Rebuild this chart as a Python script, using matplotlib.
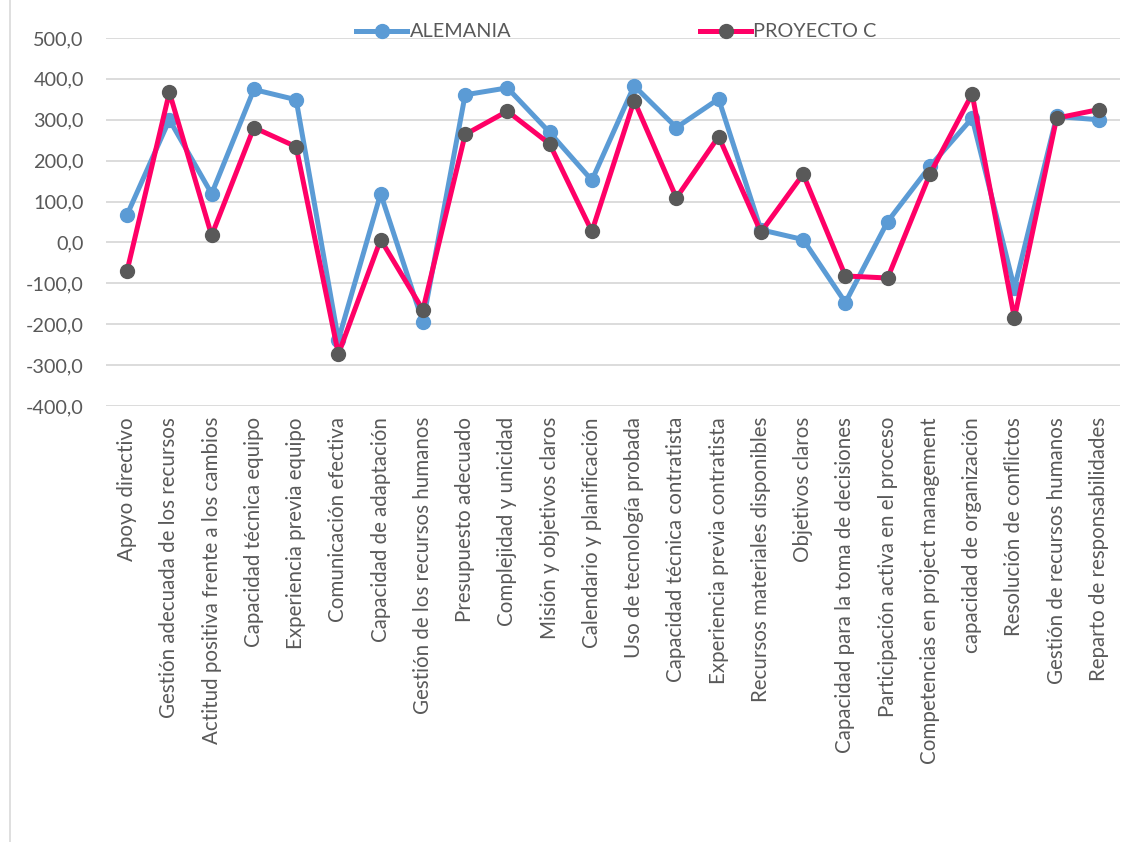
import matplotlib.pyplot as plt
from matplotlib.ticker import FuncFormatter
from matplotlib.lines import Line2D

plt.rcParams['font.family'] = ['Lato', 'DejaVu Sans']

categorias = ['Apoyo directivo', 'Gestión adecuada de los recursos',
              'Actitud positiva frente a los cambios', 'Capacidad técnica equipo',
              'Experiencia previa equipo', 'Comunicación efectiva',
              'Capacidad de adaptación', 'Gestión de los recursos humanos',
              'Presupuesto adecuado', 'Complejidad y unicidad',
              'Misión y objetivos claros', 'Calendario y planificación',
              'Uso de tecnología probada', 'Capacidad técnica contratista',
              'Experiencia previa contratista', 'Recursos materiales disponibles',
              'Objetivos claros', 'Capacidad para la toma de decisiones',
              'Participación activa en el proceso', 'Competencias en project management',
              'capacidad de organización', 'Resolución de conflictos',
              'Gestión de recursos humanos', 'Reparto de responsabilidades']

alemania = [68, 300, 119, 374, 349, -238, 119, -195, 361, 378, 269, 152,
            383, 281, 351, 31, 7, -147, 51, 186, 304, -112, 308, 300]
proyecto_c = [-69, 367, 17, 281, 234, -273, 7, -165, 264, 321, 241, 27,
              347, 109, 259, 25, 167, -82, -87, 167, 363, -185, 304, 325]

fig = plt.figure(figsize=(11.35, 8.42), dpi=100)
ax = fig.add_axes([0.0934, 0.5178, 0.8934, 0.4371])

x = range(len(categorias))
ax.plot(x, alemania, color='#5B9BD5', lw=3.6, marker='o', ms=10,
        mfc='#5B9BD5', mec='#5B9BD5', zorder=3)
ax.plot(x, proyecto_c, color='#FF0066', lw=3.6, marker='o', ms=10,
        mfc='#595959', mec='#595959', zorder=4)

ax.set_xlim(-0.5, len(categorias) - 0.5)
ax.set_ylim(-400, 500)
ax.set_yticks(range(-400, 501, 100))
ax.yaxis.set_major_formatter(FuncFormatter(lambda v, p: f'{v:.1f}'.replace('.', ',')))
ax.set_xticks(list(x))
ax.set_xticklabels(categorias, rotation=90)
ax.tick_params(length=0, colors='#595959')
ax.tick_params(axis='x', labelsize=14.8, pad=8)
ax.tick_params(axis='y', labelsize=14.3, pad=16)
ax.grid(axis='y', color='#D9D9D9', lw=1.3)
ax.set_axisbelow(True)
for s in ax.spines.values():
    s.set_visible(False)

# chart border on the left
fig.add_artist(Line2D([0.009, 0.009], [0, 1], color='#D9D9D9', lw=1.2))

handles = [Line2D([], [], color='#5B9BD5', lw=3.6, marker='o', ms=10,
                  mfc='#5B9BD5', mec='#5B9BD5'),
           Line2D([], [], color='#FF0066', lw=3.6, marker='o', ms=10,
                  mfc='#595959', mec='#595959')]
leg = fig.legend(handles, ['ALEMANIA', 'PROYECTO C'], loc='center',
                 bbox_to_anchor=(0.543, 0.962), ncol=2, frameon=False,
                 fontsize=14.3, handlelength=2.6, columnspacing=9.5,
                 handletextpad=0.1)
for t in leg.get_texts():
    t.set_color('#595959')

fig.savefig('out.png', dpi=100)
